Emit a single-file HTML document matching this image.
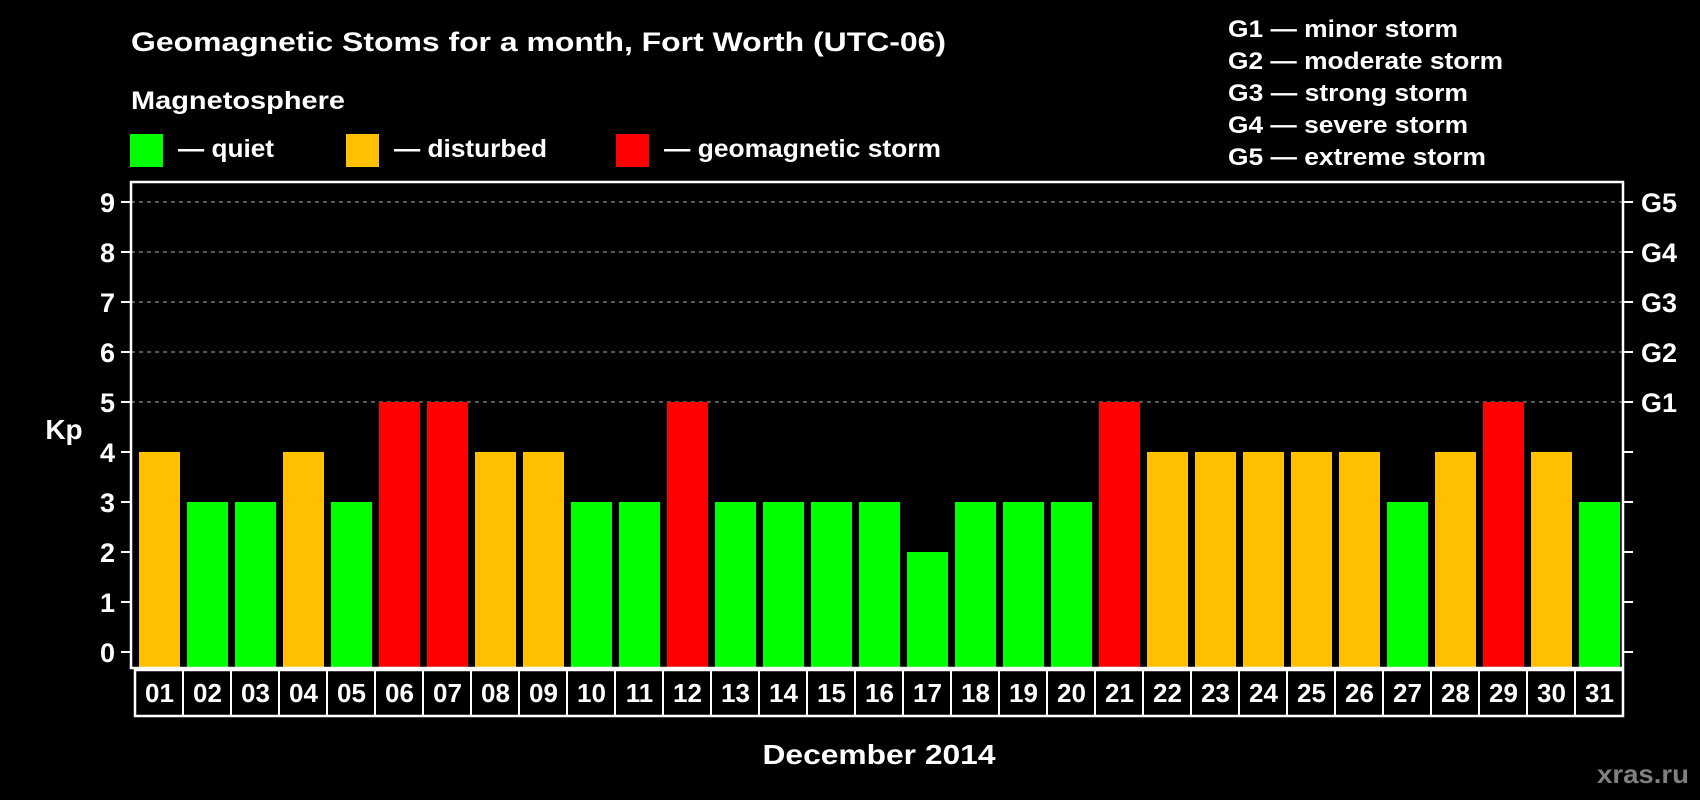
<!DOCTYPE html>
<html><head><meta charset="utf-8"><style>
html,body{margin:0;padding:0;background:#000;}
svg{display:block;font-family:"Liberation Sans",Arial,sans-serif;font-weight:bold;}
</style></head><body>
<svg id="chart" width="1700" height="800" viewBox="0 0 1700 800" xmlns="http://www.w3.org/2000/svg">
<rect width="1700" height="800" fill="#000"/>
<text x="131" y="51" fill="#fff" font-size="27" textLength="815" lengthAdjust="spacingAndGlyphs">Geomagnetic Stoms for a month, Fort Worth (UTC-06)</text>
<text x="131" y="109" fill="#fff" font-size="25" textLength="214" lengthAdjust="spacingAndGlyphs">Magnetosphere</text>
<g>
<rect x="130" y="134" width="33" height="33" fill="#00ff00"/>
<text x="178" y="157" fill="#fff" font-size="25" textLength="96" lengthAdjust="spacingAndGlyphs">— quiet</text>
</g>
<g>
<rect x="346" y="134" width="33" height="33" fill="#ffc000"/>
<text x="394" y="157" fill="#fff" font-size="25" textLength="153" lengthAdjust="spacingAndGlyphs">— disturbed</text>
</g>
<g>
<rect x="616" y="134" width="33" height="33" fill="#ff0000"/>
<text x="664" y="157" fill="#fff" font-size="25" textLength="277" lengthAdjust="spacingAndGlyphs">— geomagnetic storm</text>
</g>
<g fill="#fff" font-size="24">
<text x="1228" y="37" textLength="230" lengthAdjust="spacingAndGlyphs">G1 — minor storm</text>
<text x="1228" y="69" textLength="275" lengthAdjust="spacingAndGlyphs">G2 — moderate storm</text>
<text x="1228" y="101" textLength="240" lengthAdjust="spacingAndGlyphs">G3 — strong storm</text>
<text x="1228" y="133" textLength="240" lengthAdjust="spacingAndGlyphs">G4 — severe storm</text>
<text x="1228" y="165" textLength="258" lengthAdjust="spacingAndGlyphs">G5 — extreme storm</text>
</g>
<g id="grid"></g>
<g id="bars"></g>
<g id="axes"></g>
<g id="dates"></g>
<text x="64" y="439" fill="#fff" font-size="28" text-anchor="middle">Kp</text>
<text x="879" y="764" fill="#fff" font-size="28" text-anchor="middle" textLength="233" lengthAdjust="spacingAndGlyphs">December 2014</text>
<text x="1689" y="783" fill="#808080" font-size="26" text-anchor="end" textLength="92" lengthAdjust="spacingAndGlyphs">xras.ru</text>
</svg>
<script>
const days = ["01","02","03","04","05","06","07","08","09","10","11","12","13","14","15","16","17","18","19","20","21","22","23","24","25","26","27","28","29","30","31"];
const kpValues = [4,3,3,4,3,5,5,4,4,3,3,5,3,3,3,3,2,3,3,3,5,4,4,4,4,4,3,4,5,4,3];
const yTicks = [0,1,2,3,4,5,6,7,8,9];
const gLabels = ["G1","G2","G3","G4","G5"];
const gLevels = [5,6,7,8,9];

const NS = "http://www.w3.org/2000/svg";
const L = 131, R = 1623, T = 182, B = 668;
const y0 = 652, unit = 50;
const pitch = 48, barX0 = 139, barW = 41;
function yScale(v){ return y0 - v*unit; }
function xScale(i){ return barX0 + i*pitch; }
function mk(tag, attrs, parent){ const e=document.createElementNS(NS,tag); for(const k in attrs) e.setAttribute(k,attrs[k]); parent.appendChild(e); return e; }
function color(v){ return v>=5 ? "#ff0000" : (v>=4 ? "#ffc000" : "#00ff00"); }

const grid=document.getElementById("grid"), bars=document.getElementById("bars"), axes=document.getElementById("axes"), dates=document.getElementById("dates");

gLevels.forEach((lv)=>{
  const ln = mk("line",{x1:L,x2:R,y1:yScale(lv),y2:yScale(lv),stroke:"#8a8a8a","stroke-width":1.2,"stroke-dasharray":"4,4"},grid);
  
  
});

kpValues.forEach((v,i)=>{
  const r = mk("rect",{x:xScale(i),y:yScale(v),width:barW,height:B-yScale(v),fill:color(v)},bars);
  
  
});

const frame = mk("rect",{x:L,y:T,width:R-L,height:B-T,fill:"none",stroke:"#fff","stroke-width":2.5},axes);



yTicks.forEach((t)=>{
  const y=yScale(t);
  const a = mk("line",{x1:L-10,x2:L,y1:y,y2:y,stroke:"#fff","stroke-width":2},axes);
  
  
  const b = mk("line",{x1:R,x2:R+10,y1:y,y2:y,stroke:"#fff","stroke-width":2},axes);
  
  
  const tx = mk("text",{x:115,y:y+10,fill:"#fff","font-size":27,"text-anchor":"end"},axes);
  tx.textContent = t;
  
  
});

gLabels.forEach((g,i)=>{
  const tx = mk("text",{x:1641,y:yScale(gLevels[i])+10,fill:"#fff","font-size":27},axes);
  tx.textContent = g;
  
  
});

const boxL = 135, boxT = 670, boxB = 716;
const dframe = mk("rect",{x:boxL,y:boxT,width:R-boxL,height:boxB-boxT,fill:"none",stroke:"#fff","stroke-width":2.5},dates);


days.forEach((d,i)=>{
  if(i>0){
    const sep = mk("line",{x1:boxL+i*pitch,x2:boxL+i*pitch,y1:boxT,y2:boxB,stroke:"#fff","stroke-width":2},dates);
    
    
  }
  const tx = mk("text",{x:xScale(i)+barW/2,y:702,fill:"#fff","font-size":26,"text-anchor":"middle"},dates);
  tx.textContent = d;
  
  
});
</script>
</body></html>
